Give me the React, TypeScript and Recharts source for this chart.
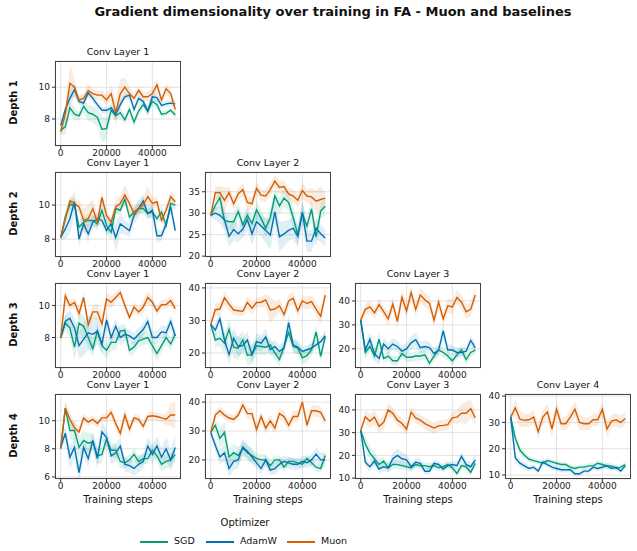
import React from 'react';
import { ComposedChart, Line, Area, XAxis, YAxis, CartesianGrid } from 'recharts';

// Training steps (shared x values)
const steps = [
  0, 2000, 4000, 6000, 8000, 10000, 12000, 14000, 16000, 18000, 20000, 22000, 24000,
  26000, 28000, 30000, 32000, 34000, 36000, 38000, 40000, 42000, 44000, 46000, 48000, 50000,
];
const xTicks = [0, 20000, 40000];

// Depth 1 / Conv Layer 1
const d1c1Sgd = [7.3, 7.5, 8.7, 8.3, 8.2, 8.8, 8.4, 8.3, 8.1, 7.35, 7.4, 8.55, 8.2, 8.4, 7.95, 8.6, 7.8, 8.5, 8.9, 8.5, 9.1, 8.9, 8.3, 8.35, 8.55, 8.25];
const d1c1Adamw = [7.6, 8.6, 9.3, 9.85, 9.1, 9.0, 9.65, 9.3, 8.9, 8.55, 8.55, 8.7, 8.3, 8.9, 9.4, 9.5, 8.6, 9.3, 9.1, 8.5, 9.4, 9.35, 8.85, 8.95, 9.0, 8.95];
const d1c1Muon = [7.2, 8.3, 10.25, 10.0, 9.2, 9.3, 9.8, 9.6, 9.5, 9.5, 9.2, 9.6, 8.4, 9.6, 10.0, 9.6, 9.3, 9.8, 9.4, 9.4, 9.6, 10.15, 9.2, 9.9, 9.6, 8.6];
const d1c1SgdSd = [0.3, 0.5, 0.4, 0.4, 0.3, 0.4, 0.5, 0.5, 0.6, 0.8, 0.7, 0.4, 0.3, 0.3, 0.3, 0.3, 0.3, 0.3, 0.3, 0.3, 0.3, 0.3, 0.2, 0.2, 0.2, 0.2];
const d1c1AdamwSd = [0.2, 0.3, 0.5, 0.4, 0.2, 0.2, 0.2, 0.2, 0.2, 0.2, 0.2, 0.2, 0.3, 0.3, 0.2, 0.2, 0.3, 0.2, 0.2, 0.3, 0.3, 0.3, 0.2, 0.2, 0.2, 0.2];
const d1c1MuonSd = [0.3, 0.5, 1.1, 0.6, 0.3, 0.3, 0.4, 0.3, 0.3, 0.3, 0.3, 0.5, 0.8, 0.9, 0.6, 0.4, 0.3, 0.3, 0.3, 0.3, 0.4, 0.4, 0.3, 0.3, 0.3, 0.4];

// Depth 2 / Conv Layer 1
const d2c1Sgd = [8.1, 9.3, 10.05, 10.0, 8.7, 9.0, 9.1, 9.1, 8.9, 9.7, 8.8, 8.4, 9.8, 9.7, 10.35, 9.3, 9.6, 9.8, 9.8, 9.5, 9.6, 9.2, 9.6, 8.8, 10.1, 10.0];
const d2c1Adamw = [8.1, 8.6, 9.2, 10.2, 8.0, 8.9, 8.3, 9.0, 9.2, 9.1, 8.5, 8.9, 8.1, 8.9, 8.7, 8.5, 9.4, 9.8, 10.25, 9.5, 9.7, 8.2, 8.2, 8.9, 9.9, 8.5];
const d2c1Muon = [8.1, 9.2, 10.25, 10.1, 9.9, 9.1, 9.2, 9.8, 9.0, 10.45, 9.4, 9.0, 9.9, 10.1, 10.6, 10.1, 9.5, 9.8, 10.0, 10.5, 10.1, 10.2, 9.1, 9.7, 10.5, 10.2];
const d2c1SgdSd = [0.2, 0.4, 0.3, 0.3, 0.4, 0.4, 0.3, 0.3, 0.4, 0.4, 0.4, 0.5, 0.3, 0.3, 0.3, 0.3, 0.3, 0.3, 0.3, 0.3, 0.3, 0.3, 0.4, 0.3, 0.3, 0.3];
const d2c1AdamwSd = [0.2, 0.6, 0.9, 0.7, 0.4, 0.4, 0.5, 0.4, 0.4, 0.3, 0.3, 0.4, 0.8, 0.6, 0.4, 0.4, 0.5, 0.5, 0.4, 0.3, 0.4, 0.4, 0.3, 0.3, 0.4, 0.3];
const d2c1MuonSd = [0.2, 0.3, 0.3, 0.3, 0.4, 0.7, 0.8, 0.6, 0.4, 0.4, 0.3, 0.3, 0.4, 0.5, 0.6, 0.5, 0.3, 0.3, 0.5, 0.6, 0.4, 0.3, 0.3, 0.3, 0.3, 0.3];

// Depth 2 / Conv Layer 2
const d2c2Sgd = [29.5, 31.8, 33.6, 28.3, 28.0, 28.0, 30.4, 27.3, 29.5, 27.6, 30.8, 28.8, 26.5, 29.0, 34.0, 31.7, 33.5, 32.5, 29.0, 25.0, 30.0, 27.0, 31.0, 24.5, 30.5, 31.6];
const d2c2Adamw = [29.5, 30.0, 29.5, 28.5, 24.6, 26.2, 25.2, 26.3, 28.5, 25.2, 28.0, 27.0, 26.0, 24.9, 30.3, 24.5, 25.2, 26.0, 26.5, 24.6, 30.2, 23.5, 23.5, 26.5, 25.2, 24.2];
const d2c2Muon = [29.5, 34.8, 34.8, 33.0, 34.8, 32.2, 34.5, 35.5, 32.5, 32.2, 35.8, 34.2, 34.0, 35.5, 37.5, 36.0, 36.2, 34.5, 34.0, 33.0, 35.3, 34.0, 33.8, 32.8, 33.2, 33.5];
const d2c2SgdSd = [0.5, 1.5, 2.0, 2.0, 2.0, 2.0, 2.0, 2.0, 2.0, 2.0, 2.0, 2.0, 2.0, 2.0, 2.0, 2.0, 2.0, 2.0, 2.5, 2.5, 2.5, 2.0, 2.0, 2.5, 2.0, 2.0];
const d2c2AdamwSd = [0.5, 1.5, 2.0, 2.5, 2.5, 2.5, 2.0, 2.0, 2.5, 2.5, 2.5, 2.5, 3.0, 3.5, 3.0, 3.5, 3.0, 2.5, 2.5, 2.5, 3.0, 2.5, 2.5, 2.5, 2.0, 2.0];
const d2c2MuonSd = [0.5, 1.5, 1.5, 3.0, 1.5, 1.5, 1.5, 1.5, 1.5, 1.5, 1.5, 1.5, 1.5, 1.5, 1.5, 1.5, 1.5, 1.5, 1.5, 1.5, 2.0, 1.5, 2.0, 2.5, 3.0, 1.5];

// Depth 3 / Conv Layer 1
const d3c1Sgd = [8.0, 8.9, 8.6, 7.4, 8.9, 8.7, 8.0, 7.3, 8.4, 7.5, 7.2, 7.7, 7.7, 8.4, 8.45, 7.2, 7.4, 7.8, 7.9, 8.0, 7.5, 7.0, 7.5, 8.0, 7.6, 8.2];
const d3c1Adamw = [8.0, 9.0, 9.2, 8.6, 7.5, 7.9, 8.3, 8.2, 8.4, 7.6, 9.1, 8.0, 8.7, 8.0, 8.2, 8.1, 7.9, 8.2, 8.5, 9.0, 8.0, 8.0, 8.35, 8.3, 9.0, 8.1];
const d3c1Muon = [8.0, 10.6, 10.0, 10.2, 9.5, 10.5, 8.8, 9.6, 9.6, 8.85, 10.4, 10.2, 10.5, 10.8, 10.0, 9.25, 9.9, 9.6, 9.9, 10.5, 10.2, 9.65, 10.05, 10.05, 10.3, 9.8];
const d3c1SgdSd = [0.2, 0.5, 0.6, 0.8, 0.7, 0.7, 0.6, 0.5, 0.5, 0.5, 0.5, 0.5, 0.5, 0.4, 0.4, 0.4, 0.4, 0.4, 0.4, 0.4, 0.4, 0.5, 0.4, 0.4, 0.4, 0.4];
const d3c1AdamwSd = [0.2, 0.4, 0.5, 0.6, 0.8, 1.0, 1.1, 1.0, 0.8, 0.6, 0.5, 0.5, 0.5, 0.5, 0.4, 0.4, 0.4, 0.4, 0.4, 0.4, 0.4, 0.4, 0.4, 0.4, 0.4, 0.4];
const d3c1MuonSd = [0.2, 0.4, 0.3, 0.3, 0.4, 0.3, 0.4, 0.4, 0.5, 0.5, 0.4, 0.4, 0.3, 0.3, 0.3, 0.3, 0.3, 0.3, 0.4, 0.4, 0.3, 0.3, 0.3, 0.3, 0.3, 0.3];

// Depth 3 / Conv Layer 2
const d3c2Sgd = [28.8, 24.0, 24.5, 23.0, 27.3, 21.8, 21.5, 24.0, 19.3, 19.5, 22.2, 22.0, 21.8, 22.5, 20.0, 18.0, 22.0, 26.3, 22.0, 21.5, 18.5, 19.2, 21.0, 26.5, 19.0, 25.0];
const d3c2Adamw = [28.8, 27.0, 30.5, 24.0, 19.5, 24.5, 22.0, 22.3, 24.0, 19.5, 23.5, 23.0, 25.0, 21.0, 22.0, 20.5, 21.5, 29.3, 22.5, 21.8, 20.5, 21.0, 21.5, 22.5, 23.5, 25.3];
const d3c2Muon = [28.8, 33.3, 33.5, 37.0, 35.0, 33.2, 33.0, 32.8, 35.5, 33.8, 35.5, 35.6, 36.3, 33.2, 33.5, 34.5, 31.8, 36.0, 36.8, 33.0, 36.0, 35.2, 35.8, 33.5, 31.3, 37.8];
const d3c2SgdSd = [0.5, 2.0, 2.5, 3.0, 3.0, 3.5, 3.5, 3.0, 3.0, 3.0, 2.5, 2.5, 2.5, 2.0, 2.0, 2.0, 2.0, 2.0, 2.0, 2.0, 2.0, 2.0, 2.0, 2.0, 2.0, 2.0];
const d3c2AdamwSd = [0.5, 2.0, 2.0, 2.5, 3.0, 3.0, 3.0, 2.5, 2.5, 2.5, 2.5, 2.5, 2.5, 2.0, 2.0, 2.0, 2.0, 2.5, 2.0, 2.0, 1.5, 1.5, 1.5, 1.5, 1.5, 1.5];
const d3c2MuonSd = [0.5, 2.0, 2.0, 2.0, 2.0, 1.5, 1.5, 1.5, 2.0, 2.0, 1.5, 1.5, 2.0, 4.0, 2.5, 2.0, 2.0, 2.0, 2.0, 2.0, 2.0, 2.0, 2.0, 2.0, 2.5, 2.5];

// Depth 3 / Conv Layer 3
const d3c3Sgd = [32.0, 18.5, 21.0, 17.0, 24.0, 16.0, 17.0, 15.0, 15.0, 18.0, 16.5, 16.5, 17.0, 17.0, 17.5, 14.0, 17.0, 19.5, 18.5, 17.0, 15.0, 17.5, 19.5, 15.5, 18.5, 19.5];
const d3c3Adamw = [32.0, 19.5, 24.0, 18.0, 16.0, 22.0, 20.0, 22.0, 21.0, 19.0, 20.0, 22.5, 23.8, 20.5, 21.0, 20.5, 18.0, 19.5, 27.5, 19.5, 19.5, 18.5, 18.5, 19.0, 23.5, 20.5];
const d3c3Muon = [32.0, 36.5, 37.5, 35.0, 38.5, 35.5, 32.5, 38.7, 31.5, 41.5, 35.8, 43.5, 36.5, 42.5, 40.5, 39.0, 32.0, 39.5, 32.5, 38.0, 37.5, 41.5, 39.5, 35.5, 36.5, 42.5];
const d3c3SgdSd = [1.0, 2.5, 2.5, 2.5, 3.0, 2.0, 2.0, 2.0, 2.0, 2.0, 2.0, 2.0, 2.0, 2.0, 2.0, 2.0, 2.0, 2.0, 2.0, 2.0, 2.0, 2.0, 2.0, 2.0, 2.0, 2.0];
const d3c3AdamwSd = [1.0, 3.0, 3.0, 3.0, 3.0, 2.5, 2.5, 2.5, 2.5, 2.5, 2.5, 3.0, 3.0, 2.5, 2.5, 2.5, 2.5, 2.5, 3.0, 2.5, 2.0, 2.0, 2.0, 2.0, 2.0, 2.0];
const d3c3MuonSd = [1.0, 2.5, 2.5, 2.5, 2.5, 2.5, 3.0, 3.0, 3.0, 3.0, 3.0, 3.0, 3.0, 3.0, 3.0, 3.0, 3.0, 3.0, 3.0, 3.0, 3.0, 3.0, 3.0, 3.0, 3.0, 3.0];

// Depth 4 / Conv Layer 1
const d4c1Sgd = [8.0, 10.9, 9.3, 9.3, 8.1, 8.6, 8.4, 8.5, 7.5, 7.6, 8.7, 7.9, 7.9, 7.1, 7.0, 7.2, 7.6, 7.1, 7.3, 7.3, 7.9, 7.5, 6.9, 7.1, 7.2, 7.6];
const d4c1Adamw = [8.1, 9.1, 7.4, 8.1, 6.3, 8.1, 7.3, 8.6, 7.3, 9.2, 8.8, 7.5, 7.7, 8.2, 6.9, 6.8, 6.6, 6.9, 7.1, 8.2, 7.6, 8.2, 7.4, 8.0, 7.2, 8.1];
const d4c1Muon = [8.1, 10.9, 10.1, 9.5, 9.2, 10.2, 9.9, 10.1, 9.8, 10.2, 10.2, 10.6, 9.8, 9.1, 10.4, 9.4, 10.2, 10.1, 9.6, 10.3, 10.35, 10.3, 10.2, 10.1, 10.4, 10.4];
const d4c1SgdSd = [0.2, 0.4, 0.6, 0.7, 0.7, 0.7, 0.7, 0.6, 0.6, 0.6, 0.5, 0.5, 0.5, 0.5, 0.4, 0.4, 0.4, 0.4, 0.4, 0.4, 0.4, 0.4, 0.5, 0.5, 0.5, 0.5];
const d4c1AdamwSd = [0.2, 0.6, 0.8, 0.8, 0.8, 0.7, 0.6, 0.6, 0.7, 0.7, 0.6, 0.6, 0.6, 0.6, 0.5, 0.5, 0.5, 0.6, 0.5, 0.6, 0.7, 0.7, 0.7, 0.8, 0.8, 0.8];
const d4c1MuonSd = [0.2, 0.5, 0.5, 0.4, 0.4, 0.3, 0.3, 0.3, 0.3, 0.3, 0.3, 0.4, 0.4, 0.4, 0.5, 0.4, 0.3, 0.3, 0.3, 0.3, 0.3, 0.3, 0.3, 0.4, 0.8, 1.0];

// Depth 4 / Conv Layer 2
const d4c2Sgd = [29.5, 32.0, 27.5, 29.5, 21.0, 22.5, 21.5, 24.0, 22.5, 21.5, 20.5, 20.0, 20.0, 18.0, 20.0, 20.0, 17.5, 19.5, 19.5, 19.0, 18.5, 20.5, 19.0, 17.5, 17.0, 21.5];
const d4c2Adamw = [29.5, 25.0, 21.0, 22.5, 17.0, 19.5, 20.0, 24.5, 23.0, 21.0, 19.0, 17.0, 20.0, 16.5, 17.0, 18.5, 19.5, 19.0, 18.5, 18.5, 19.5, 19.0, 20.0, 22.0, 20.0, 20.0];
const d4c2Muon = [29.5, 35.5, 37.0, 35.5, 34.5, 34.0, 35.5, 39.0, 36.0, 36.0, 30.5, 35.0, 31.0, 33.5, 31.0, 36.0, 35.0, 32.0, 35.0, 35.0, 40.0, 32.0, 37.0, 37.0, 36.5, 33.5];
const d4c2SgdSd = [0.5, 2.5, 3.5, 3.5, 3.0, 3.0, 3.0, 2.5, 2.5, 2.5, 2.0, 2.0, 2.0, 2.0, 1.5, 1.5, 1.5, 1.5, 1.5, 1.5, 1.5, 1.5, 1.5, 1.5, 1.5, 1.5];
const d4c2AdamwSd = [0.5, 2.0, 2.5, 3.0, 3.0, 3.0, 3.0, 3.0, 2.5, 2.5, 2.0, 2.0, 2.0, 2.0, 2.0, 2.0, 2.0, 2.0, 2.0, 2.0, 2.0, 2.0, 2.0, 2.5, 2.5, 2.5];
const d4c2MuonSd = [0.5, 1.5, 1.5, 1.5, 1.5, 1.5, 1.5, 2.0, 2.0, 2.0, 2.0, 2.0, 2.0, 2.0, 2.0, 2.0, 2.0, 2.0, 2.0, 2.0, 2.0, 2.0, 2.0, 2.0, 2.0, 2.0];

// Depth 4 / Conv Layer 3
const d4c3Sgd = [31.0, 25.0, 21.0, 18.5, 16.0, 17.5, 14.5, 16.0, 16.0, 15.5, 15.0, 14.5, 16.0, 15.5, 15.5, 15.0, 15.5, 14.5, 15.0, 16.0, 14.5, 12.0, 15.5, 15.0, 12.5, 16.5];
const d4c3Adamw = [31.0, 17.0, 15.0, 17.5, 14.0, 15.0, 14.5, 18.5, 20.0, 18.5, 18.0, 15.0, 17.0, 16.5, 13.0, 13.0, 16.5, 16.0, 14.0, 15.5, 16.0, 15.5, 19.5, 16.0, 15.0, 18.0];
const d4c3Muon = [31.0, 37.0, 35.0, 36.8, 32.8, 34.5, 40.0, 38.5, 35.5, 34.0, 31.5, 39.0, 36.5, 35.5, 34.0, 33.0, 32.0, 33.0, 33.2, 33.5, 36.5, 36.8, 38.5, 38.5, 40.5, 36.5];
const d4c3SgdSd = [1.0, 3.0, 3.0, 3.0, 2.5, 2.0, 2.0, 2.0, 2.0, 2.0, 1.5, 1.5, 1.5, 1.5, 1.5, 1.5, 1.5, 1.5, 1.5, 1.5, 1.5, 1.5, 1.5, 1.5, 1.5, 1.5];
const d4c3AdamwSd = [1.0, 2.0, 2.0, 2.0, 2.0, 2.0, 2.0, 2.5, 3.0, 3.0, 2.5, 2.0, 2.0, 2.0, 1.5, 1.5, 1.5, 1.5, 1.5, 1.5, 1.5, 2.0, 2.0, 2.0, 2.0, 2.5];
const d4c3MuonSd = [1.0, 3.0, 3.0, 3.0, 3.0, 3.0, 3.0, 2.5, 2.5, 2.5, 2.5, 2.5, 2.5, 2.5, 2.5, 2.5, 2.5, 2.5, 2.5, 2.5, 2.5, 3.0, 4.0, 5.0, 4.0, 3.0];

// Depth 4 / Conv Layer 4
const d4c4Sgd = [32.0, 24.0, 19.5, 17.5, 16.0, 15.5, 15.0, 14.5, 15.5, 15.0, 14.5, 14.0, 14.0, 13.0, 12.5, 13.0, 13.0, 13.5, 13.5, 14.5, 14.0, 13.5, 13.5, 12.5, 13.0, 14.0];
const d4c4Adamw = [32.0, 16.5, 14.5, 13.5, 12.5, 13.0, 11.5, 15.0, 14.0, 13.0, 12.5, 12.0, 12.0, 12.0, 10.5, 10.5, 11.5, 11.5, 13.0, 12.5, 13.0, 13.5, 12.5, 13.0, 11.5, 13.5];
const d4c4Muon = [32.0, 35.5, 31.2, 30.8, 31.0, 32.0, 26.5, 32.0, 34.0, 27.5, 35.0, 29.5, 29.5, 32.0, 35.0, 30.0, 29.5, 29.5, 31.0, 31.0, 35.0, 27.5, 30.5, 31.0, 30.0, 31.5];
const d4c4SgdSd = [1.0, 1.5, 1.5, 1.5, 1.2, 1.0, 1.0, 1.0, 1.0, 1.0, 1.0, 1.0, 1.0, 1.0, 1.0, 1.0, 1.0, 1.0, 1.0, 1.0, 1.0, 1.0, 1.0, 1.0, 1.0, 1.0];
const d4c4AdamwSd = [1.0, 1.5, 1.5, 1.5, 1.0, 1.0, 1.0, 1.0, 1.0, 1.0, 1.0, 1.0, 1.0, 1.0, 1.0, 1.0, 1.0, 1.0, 1.0, 1.0, 1.0, 1.0, 1.0, 1.0, 1.0, 1.0];
const d4c4MuonSd = [1.0, 3.0, 3.0, 2.5, 2.5, 2.5, 3.0, 3.0, 3.0, 3.0, 3.0, 2.5, 2.5, 3.0, 3.0, 3.0, 2.5, 2.5, 2.5, 2.5, 3.0, 3.0, 2.5, 2.5, 2.5, 2.5];

const SGD_COLOR = '#029e73';
const ADAMW_COLOR = '#0173b2';
const MUON_COLOR = '#d55e00';
const FONT = '"DejaVu Sans", sans-serif';

// plot-area geometry
const COL_X = [55, 205, 355, 505];
const ROW_Y = [61, 172, 283, 394];
const PW = 126;
const PH = 85;
const Y_AXIS_W = 34;
const TOP_PAD = 8;

const panels = [
  { row: 0, col: 0, layer: 1, domain: [6.3, 11.65], ticks: [8, 10], sgd: d1c1Sgd, adamw: d1c1Adamw, muon: d1c1Muon, sgdSd: d1c1SgdSd, adamwSd: d1c1AdamwSd, muonSd: d1c1MuonSd },
  { row: 1, col: 0, layer: 1, domain: [6.95, 11.95], ticks: [8, 10], sgd: d2c1Sgd, adamw: d2c1Adamw, muon: d2c1Muon, sgdSd: d2c1SgdSd, adamwSd: d2c1AdamwSd, muonSd: d2c1MuonSd },
  { row: 1, col: 1, layer: 2, domain: [19.8, 39.6], ticks: [20, 25, 30, 35], sgd: d2c2Sgd, adamw: d2c2Adamw, muon: d2c2Muon, sgdSd: d2c2SgdSd, adamwSd: d2c2AdamwSd, muonSd: d2c2MuonSd },
  { row: 2, col: 0, layer: 1, domain: [6.1, 11.4], ticks: [8, 10], sgd: d3c1Sgd, adamw: d3c1Adamw, muon: d3c1Muon, sgdSd: d3c1SgdSd, adamwSd: d3c1AdamwSd, muonSd: d3c1MuonSd },
  { row: 2, col: 1, layer: 2, domain: [15.4, 41.5], ticks: [20, 30, 40], sgd: d3c2Sgd, adamw: d3c2Adamw, muon: d3c2Muon, sgdSd: d3c2SgdSd, adamwSd: d3c2AdamwSd, muonSd: d3c2MuonSd },
  { row: 2, col: 2, layer: 3, domain: [12, 47.5], ticks: [20, 30, 40], sgd: d3c3Sgd, adamw: d3c3Adamw, muon: d3c3Muon, sgdSd: d3c3SgdSd, adamwSd: d3c3AdamwSd, muonSd: d3c3MuonSd },
  { row: 3, col: 0, layer: 1, domain: [5.85, 11.9], ticks: [6, 8, 10], sgd: d4c1Sgd, adamw: d4c1Adamw, muon: d4c1Muon, sgdSd: d4c1SgdSd, adamwSd: d4c1AdamwSd, muonSd: d4c1MuonSd },
  { row: 3, col: 1, layer: 2, domain: [13.4, 42.8], ticks: [20, 30, 40], sgd: d4c2Sgd, adamw: d4c2Adamw, muon: d4c2Muon, sgdSd: d4c2SgdSd, adamwSd: d4c2AdamwSd, muonSd: d4c2MuonSd },
  { row: 3, col: 2, layer: 3, domain: [9.6, 47], ticks: [10, 20, 30, 40], sgd: d4c3Sgd, adamw: d4c3Adamw, muon: d4c3Muon, sgdSd: d4c3SgdSd, adamwSd: d4c3AdamwSd, muonSd: d4c3MuonSd },
  { row: 3, col: 3, layer: 4, domain: [8.5, 40.8], ticks: [10, 20, 30, 40], sgd: d4c4Sgd, adamw: d4c4Adamw, muon: d4c4Muon, sgdSd: d4c4SgdSd, adamwSd: d4c4AdamwSd, muonSd: d4c4MuonSd },
];

const series = [
  { key: 'sgd', name: 'SGD', color: SGD_COLOR },
  { key: 'adamw', name: 'AdamW', color: ADAMW_COLOR },
  { key: 'muon', name: 'Muon', color: MUON_COLOR },
];

const tickStyle = { fontSize: 9, fill: '#222', fontFamily: FONT };

function Panel({ p }: { p: any }) {
  const left = COL_X[p.col];
  const top = ROW_Y[p.row];
  const data = steps.map((s, i) => ({
    step: s,
    sgd: p.sgd[i],
    adamw: p.adamw[i],
    muon: p.muon[i],
    sgdBand: [p.sgd[i] - p.sgdSd[i], p.sgd[i] + p.sgdSd[i]],
    adamwBand: [p.adamw[i] - p.adamwSd[i], p.adamw[i] + p.adamwSd[i]],
    muonBand: [p.muon[i] - p.muonSd[i], p.muon[i] + p.muonSd[i]],
  }));
  return (
    <>
      <div style={{ position: 'absolute', left: left - 10, top: top - 15, width: PW + 20, textAlign: 'center', fontSize: 9.5, fontFamily: FONT, color: '#111' }}>
        {`Conv Layer ${p.layer}`}
      </div>
      <div style={{ position: 'absolute', left: left - Y_AXIS_W, top: top - TOP_PAD }}>
        <ComposedChart width={Y_AXIS_W + PW} height={TOP_PAD + PH + 20} data={data} margin={{ top: TOP_PAD, right: 0, bottom: 0, left: 0 }}>
          <CartesianGrid stroke="#dcdcdc" strokeWidth={0.8} />
          <XAxis dataKey="step" type="number" domain={[-2500, 52500]} ticks={xTicks} interval={0}
            allowDataOverflow tickSize={3} tickMargin={1} height={20} axisLine={false}
            tickLine={{ stroke: '#333' }} tick={tickStyle} />
          <YAxis type="number" domain={p.domain} ticks={p.ticks} interval={0} allowDataOverflow
            width={Y_AXIS_W} tickSize={3} tickMargin={2} axisLine={false}
            tickLine={{ stroke: '#333' }} tick={tickStyle} />
          {series.map((s) => (
            <Area key={s.key + 'b'} dataKey={s.key + 'Band'} type="linear" stroke="none" fill={s.color}
              fillOpacity={0.12} isAnimationActive={false} />
          ))}
          {series.map((s) => (
            <Line key={s.key} dataKey={s.key} type="linear" stroke={s.color} strokeWidth={1.4}
              dot={false} isAnimationActive={false} />
          ))}
        </ComposedChart>
      </div>
      <div style={{ position: 'absolute', left: left, top: top, width: PW, height: PH, border: '1px solid #444', boxSizing: 'border-box', pointerEvents: 'none' }} />
    </>
  );
}

export default function App() {
  return (
    <div style={{ position: 'absolute', left: 0, top: 0, width: 637, height: 551, background: '#fff', fontFamily: FONT, overflow: 'hidden' }}>
      <div style={{ position: 'absolute', left: 0, top: 4, width: 666, textAlign: 'center', fontSize: 13, fontWeight: 'bold', color: '#111' }}>
        Gradient dimensionality over training in FA - Muon and baselines
      </div>
      {ROW_Y.map((y, r) => (
        <div key={r} style={{ position: 'absolute', left: 13 - 30, top: y + PH / 2 - 7, width: 60, textAlign: 'center', transform: 'rotate(-90deg)', fontSize: 10, fontWeight: 'bold', color: '#111' }}>
          {`Depth ${r + 1}`}
        </div>
      ))}
      {panels.map((p, i) => <Panel key={i} p={p} />)}
      {COL_X.map((x, c) => (
        <div key={c} style={{ position: 'absolute', left: x, top: ROW_Y[3] + PH + 15, width: PW, textAlign: 'center', fontSize: 10, color: '#111' }}>
          Training steps
        </div>
      ))}
      <div style={{ position: 'absolute', left: 195, top: 517, width: 100, textAlign: 'center', fontSize: 10, color: '#111' }}>Optimizer</div>
      {series.map((s, i) => {
        const lx = [140, 206, 287][i];
        return (
          <React.Fragment key={s.key}>
            <div style={{ position: 'absolute', left: lx, top: 541, width: 28, height: 2, background: s.color }} />
            <div style={{ position: 'absolute', left: lx + 34, top: 535, fontSize: 9.5, color: '#111' }}>{s.name}</div>
          </React.Fragment>
        );
      })}
    </div>
  );
}
